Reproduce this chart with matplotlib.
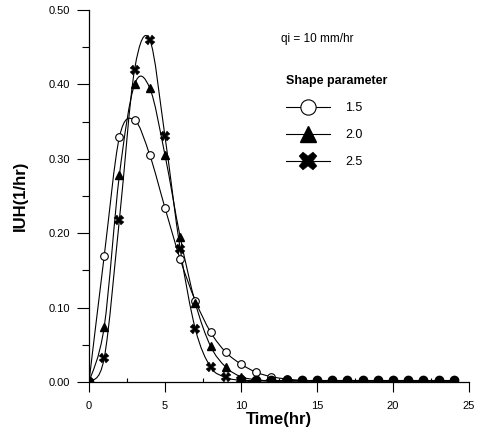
import numpy as np
import matplotlib
matplotlib.use("Agg")
import matplotlib.pyplot as plt
from matplotlib.path import Path
from matplotlib.patches import PathPatch

plt.rcParams['font.family'] = ['Liberation Sans', 'DejaVu Sans']

hours = list(range(0, 25))
iuh_15 = [0.0, 0.169, 0.329, 0.352, 0.305, 0.234, 0.165, 0.109, 0.067, 0.040, 0.024,
          0.013, 0.007, 0.004, 0.002, 0.001, 0.0, 0.0, 0.0, 0.0, 0.0, 0.0, 0.0, 0.0, 0.0]
iuh_20 = [0.0, 0.074, 0.278, 0.400, 0.395, 0.305, 0.195, 0.106, 0.048, 0.020, 0.007,
          0.003, 0.001, 0.0, 0.0, 0.0, 0.0, 0.0, 0.0, 0.0, 0.0, 0.0, 0.0, 0.0, 0.0]
iuh_25 = [0.0, 0.032, 0.218, 0.420, 0.460, 0.330, 0.179, 0.071, 0.020, 0.006, 0.002,
          0.0, 0.0, 0.0, 0.0, 0.0, 0.0, 0.0, 0.0, 0.0, 0.0, 0.0, 0.0, 0.0, 0.0]
tail_hours = list(range(10, 25))
tail_vals = [0.003] * len(tail_hours)
series_labels = ['1.5', '2.0', '2.5']
xticks = [0, 5, 10, 15, 20, 25]
yticks = [0.0, 0.1, 0.2, 0.3, 0.4, 0.5]


def smooth_path(x, y):
    x = np.asarray(x, float)
    y = np.asarray(y, float)
    verts = [(x[0], y[0])]
    codes = [Path.MOVETO]
    n = len(x)
    for i in range(n - 1):
        p0 = np.array([x[max(i - 1, 0)], y[max(i - 1, 0)]])
        p1 = np.array([x[i], y[i]])
        p2 = np.array([x[i + 1], y[i + 1]])
        p3 = np.array([x[min(i + 2, n - 1)], y[min(i + 2, n - 1)]])
        c1 = p1 + (p2 - p0) / 6.0
        c2 = p2 - (p3 - p1) / 6.0
        verts += [tuple(c1), tuple(c2), tuple(p2)]
        codes += [Path.CURVE4] * 3
    return Path(verts, codes)


fig = plt.figure(figsize=(4.81, 4.36), dpi=100)
ax = fig.add_axes([0.185, 0.124, 0.79, 0.853])

styles = [dict(marker='o', mfc='white', mec='black', ms=5.5, mew=0.8),
          dict(marker='^', mfc='black', mec='black', ms=6),
          dict(marker='X', mfc='black', mec='black', ms=6.5, mew=0.3)]
data = [iuh_15, iuh_20, iuh_25]
handles = []
for vals, st, lab in zip(data, styles, series_labels):
    ax.add_patch(PathPatch(smooth_path(hours, vals), fill=False, lw=0.8, ec='black'))
    ax.plot(hours[:14], vals[:14], ls='none', **st, zorder=3)
    h, = ax.plot([], [], color='black', lw=0.8, label=lab, **st)
    handles.append(h)
ax.plot(tail_hours, tail_vals, ls='-', color='black', lw=0.8, marker='o', ms=6,
        mfc='black', mec='black', zorder=4)
ax.plot([0], [0], marker='o', ms=6, color='black', zorder=5)

ax.set_xlim(0, 25)
ax.set_ylim(0, 0.5)
for s in ['top', 'right']:
    ax.spines[s].set_visible(False)
ax.spines['left'].set_linewidth(0.9)
ax.spines['bottom'].set_linewidth(0.9)
ax.set_xticks(xticks)
ax.set_xticklabels([str(t) for t in xticks])
ax.set_xticks([2.5, 7.5, 12.5, 17.5, 22.5], minor=True)
ax.set_yticks(yticks)
ax.set_yticklabels([f"{t:.2f}" for t in yticks])
ax.set_yticks([0.05, 0.15, 0.25, 0.35, 0.45], minor=True)
ax.tick_params(axis='y', which='major', labelsize=8, length=9, width=0.8, direction='out', pad=4.5)
ax.tick_params(axis='x', which='major', labelsize=8, length=7.5, width=0.8, direction='out', pad=6)
ax.tick_params(axis='y', which='minor', length=5, width=0.8, direction='out')
ax.tick_params(axis='x', which='minor', length=3, width=0.8, direction='in')
ax.set_xlabel('Time(hr)', fontsize=12, fontweight='bold', labelpad=1)
ax.set_ylabel('IUH(1/hr)', fontsize=12, fontweight='bold', labelpad=15)

ax.text(0.505, 0.915, 'qi = 10 mm/hr', transform=ax.transAxes, fontsize=8.5)
leg = ax.legend(handles=handles, title='Shape parameter', loc='upper left',
                bbox_to_anchor=(0.49, 0.855), frameon=False, fontsize=9,
                markerscale=2.0, handlelength=3.5, handletextpad=1.2, labelspacing=1.2)
leg.get_title().set_fontweight('bold')
leg.get_title().set_fontsize(9)
leg._legend_box.align = 'left'

fig.savefig('out.png', dpi=100)
